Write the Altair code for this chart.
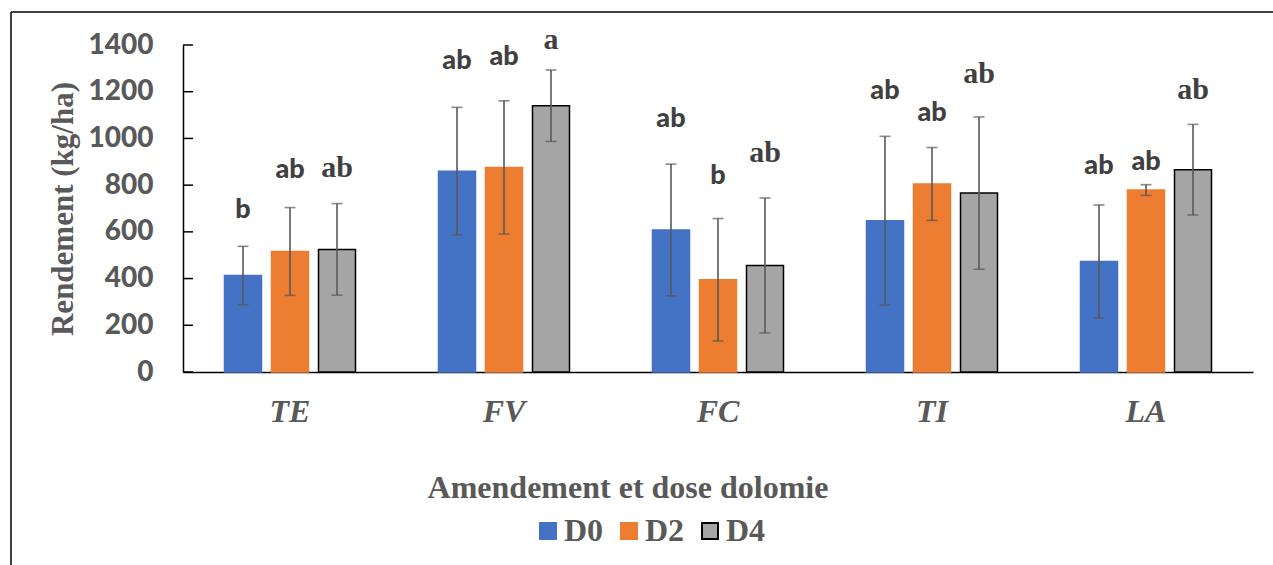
import altair as alt
import pandas as pd

categories = ["TE", "FV", "FC", "TI", "LA"]
doses = ["D0", "D2", "D4"]
colors = ["#4472C4", "#ED7D31", "#A5A5A5"]
strokes = ["#4472C4", "#ED7D31", "#000000"]

mean_d0 = [413, 860, 608, 648, 473]
mean_d2 = [516, 876, 395, 805, 779]
mean_d4 = [525, 1140, 456, 766, 866]

err_d0 = [125, 273, 282, 361, 242]
err_d2 = [188, 285, 262, 156, 23]
err_d4 = [196, 153, 289, 326, 194]

letters_d0 = ["b", "ab", "ab", "ab", "ab"]
letters_d2 = ["ab", "ab", "b", "ab", "ab"]
letters_d4 = ["ab", "a", "ab", "ab", "ab"]

# height (in kg/ha) of the baseline of each significance letter
letter_y_d0 = [659, 1298, 1047, 1170, 849]
letter_y_d2 = [830, 1315, 805, 1073, 866]
letter_y_d4 = [837, 1382, 897, 1237, 1170]

tick_values = [0, 200, 400, 600, 800, 1000, 1200, 1400]

rows = []
for d, m, e, l, ly in zip(
    doses,
    [mean_d0, mean_d2, mean_d4],
    [err_d0, err_d2, err_d4],
    [letters_d0, letters_d2, letters_d4],
    [letter_y_d0, letter_y_d2, letter_y_d4],
):
    for i, c in enumerate(categories):
        rows.append(dict(cat=c, dose=d, mean=m[i], lo=m[i] - e[i], hi=m[i] + e[i],
                         letter=l[i], ly=ly[i]))
df = pd.DataFrame(rows)

GRAY = "#595959"
SERIF = "Liberation Serif"
SANS = "Lato"

x_axis = alt.Axis(
    ticks=False, tickSize=0, grid=False, domainColor="black", domainWidth=1.5,
    labelFont=SERIF, labelFontStyle="italic", labelFontWeight="bold", labelFontSize=32,
    labelColor=GRAY, labelPadding=49, labelBaseline="alphabetic", labelAngle=0,
    title="Amendement et dose dolomie", titleFont=SERIF, titleFontSize=32,
    titleFontWeight="bold", titleColor=GRAY, titleX=444.5, titleY=125,
    titleBaseline="alphabetic", titleAlign="center",
)
y_axis = alt.Axis(
    values=tick_values, format="d", ticks=False, tickSize=0, grid=False, domainColor="black",
    domainWidth=1.5, labelFont=SANS, labelFontWeight=900, labelFontSize=28,
    labelColor=GRAY, labelPadding=30,
    title="Rendement (kg/ha)", titleFont=SERIF, titleFontSize=31, titleFontWeight="bold",
    titleColor=GRAY, titleX=-110.5, titleY=163.5, titleAngle=270,
    titleBaseline="alphabetic", titleAlign="center",
)
y_scale = alt.Scale(domain=[0, 1400], nice=False, zero=True)

x_enc = alt.X("cat:N", sort=categories, scale=alt.Scale(paddingInner=0, paddingOuter=0), axis=x_axis)
xo_enc = alt.XOffset("dose:N", sort=doses, scale=alt.Scale(paddingInner=0.213, paddingOuter=0.883))


def yq(field):
    return alt.Y(f"{field}:Q", scale=y_scale, axis=y_axis)


legend = alt.Legend(
    title=None, orient="none", legendX=349, legendY=470, direction="horizontal",
    labelFont=SERIF, labelFontSize=32, labelFontWeight="bold", labelColor=GRAY,
    symbolType="square", symbolSize=256, symbolStrokeWidth=2, labelOffset=0,
    columnPadding=9, padding=0,
)

base = alt.Chart(df).encode(x=x_enc, xOffset=xo_enc)

bars = base.mark_bar(strokeWidth=1.5).encode(
    y=yq("mean"),
    fill=alt.Fill("dose:N", sort=doses, scale=alt.Scale(domain=doses, range=colors), legend=legend),
    stroke=alt.Stroke("dose:N", sort=doses, scale=alt.Scale(domain=doses, range=strokes), legend=legend),
)

err_rule = base.mark_rule(color=GRAY, strokeWidth=1.6).encode(y=yq("lo"), y2="hi:Q")
cap_hi = base.mark_tick(color=GRAY, size=11, thickness=1.6).encode(y=yq("hi"))
cap_lo = base.mark_tick(color=GRAY, size=11, thickness=1.6).encode(y=yq("lo"))

letters_sans = base.transform_filter(alt.datum.dose != "D4").mark_text(
    font=SANS, fontWeight=900, fontSize=27, color="#404040", baseline="alphabetic"
).encode(y=yq("ly"), text="letter:N")
letters_serif = base.transform_filter(alt.datum.dose == "D4").mark_text(
    font=SERIF, fontWeight="bold", fontSize=30, color="#404040", baseline="alphabetic"
).encode(y=yq("ly"), text="letter:N")

ticks = alt.Chart(pd.DataFrame({"v": tick_values})).mark_rule(color="black", strokeWidth=1.5).encode(
    y=alt.Y("v:Q", scale=y_scale, axis=y_axis), x=alt.value(0), x2=alt.value(10)
)

frame_df = pd.DataFrame({"k": [0]})
frame_top = alt.Chart(frame_df).mark_rule(color="black", strokeWidth=1.5).encode(
    x=alt.value(-172), x2=alt.value(1095), y=alt.value(-33)
)
frame_left = alt.Chart(frame_df).mark_rule(color="black", strokeWidth=1.5).encode(
    x=alt.value(-172), y=alt.value(-33), y2=alt.value(525)
)

chart = alt.layer(
    bars, err_rule, cap_hi, cap_lo, letters_sans, letters_serif, ticks, frame_top, frame_left
).properties(
    width=1070, height=327,
    autosize=alt.AutoSizeParams(type="none"),
    padding={"left": 183, "top": 45, "right": 20, "bottom": 193},
    background="white",
).configure_view(stroke=None)

chart.save("out.html", embed_options={"renderer": "svg", "actions": False})
